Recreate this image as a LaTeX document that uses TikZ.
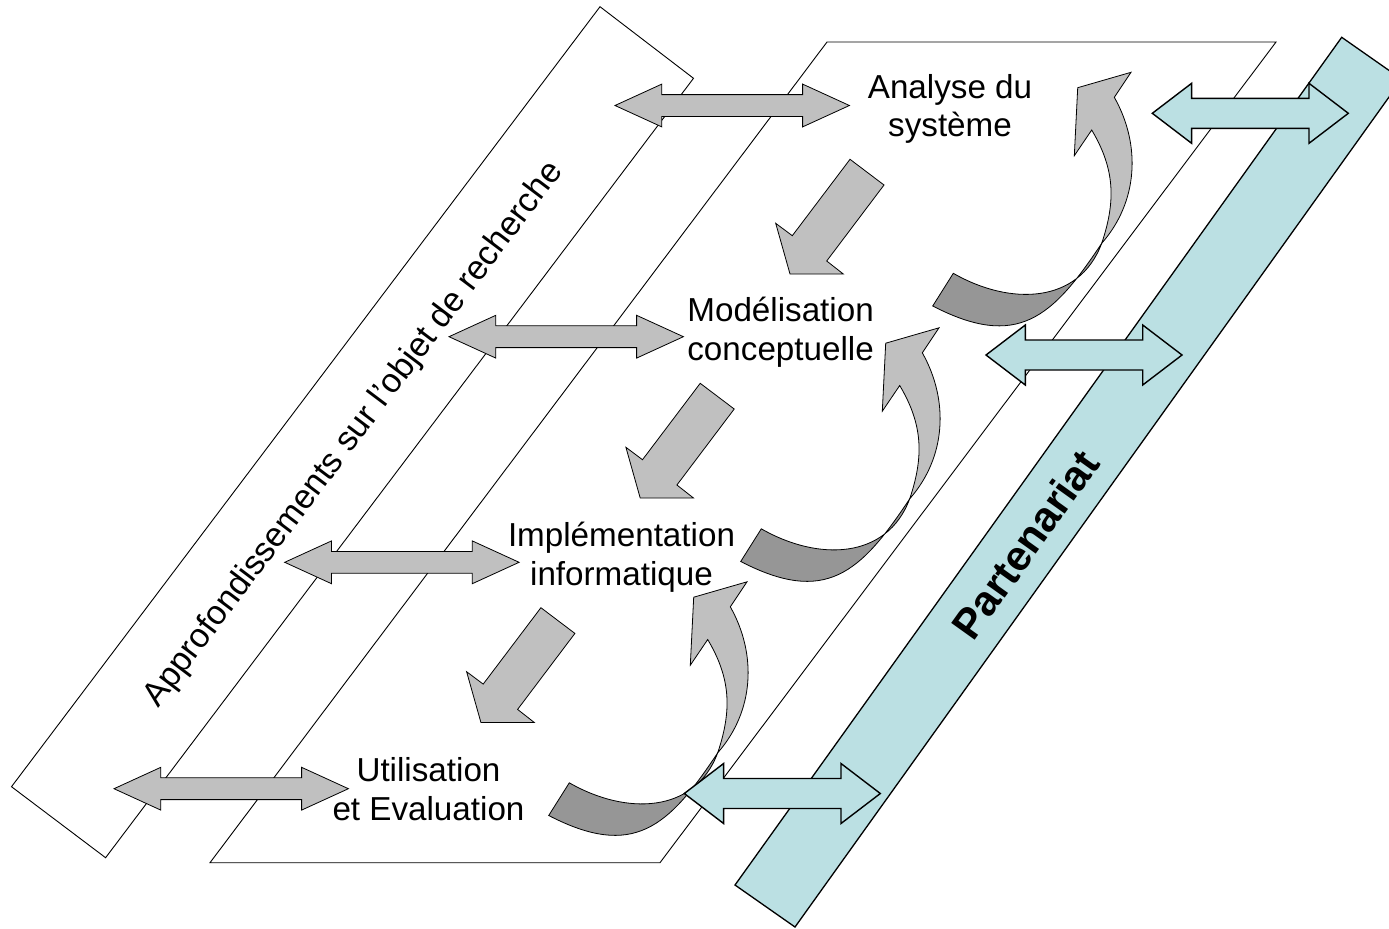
\documentclass[tikz,border=0pt]{standalone}
\usepackage{fontspec}
\setmainfont{Liberation Sans}
\definecolor{arrowgray}{RGB}{192,192,192}
\definecolor{shadegray}{RGB}{150,150,150}
\definecolor{partnerblue}{RGB}{187,224,227}

\begin{document}
\begin{tikzpicture}[x=1bp,y=-1bp,
	band/.style={draw=black,line width=0.9bp,fill=white},
	partnerband/.style={draw=black,line width=1.3bp,fill=partnerblue},
	grayarrow/.style={draw=black,line width=0.8bp,fill=arrowgray},
	darkarrow/.style={draw=black,line width=0.8bp,fill=shadegray},
	tealarrow/.style={draw=black,line width=1.4bp,fill=partnerblue},
	stagetext/.style={font=\fontsize{33.2bp}{38.5bp}\selectfont,align=center,anchor=base,inner sep=0pt}]
	\useasboundingbox (0,0) rectangle (1389,928);

	% bands
	\draw [band] (600,6.7) -- (693.5,78.3) -- (105.6,857.7) -- (11.5,786.7) -- cycle;
	\draw [band] (827,42) -- (1276,42) -- (660,862.7) -- (210,862.7) -- cycle;
	\draw [partnerband] (1341.7,37.3) -- (1401.7,79.3) -- (795,927) -- (735,885) -- cycle;

	\node [font=\fontsize{34bp}{40bp}\selectfont,rotate=53,inner sep=0pt] (approf) at (354,435) {Approfondissements sur l'objet de recherche};
	\node [font=\fontsize{42bp}{48bp}\selectfont\bfseries,rotate=54.4,inner sep=0pt] (partenariat) at (1025.3,544.2) {Partenariat};

	% double arrows to the left band
	\draw [grayarrow,shift={(615,105.5)}] (0,0) -- (46.8,-21.4) -- (46.8,-10.9) -- (187.6,-10.9) -- (187.6,-21.4) -- (234.4,0) -- (187.6,21.4) -- (187.6,10.9) -- (46.8,10.9) -- (46.8,21.4) -- cycle;
	\draw [grayarrow,shift={(449,336.7)}] (0,0) -- (46.8,-21.4) -- (46.8,-10.9) -- (187.6,-10.9) -- (187.6,-21.4) -- (234.4,0) -- (187.6,21.4) -- (187.6,10.9) -- (46.8,10.9) -- (46.8,21.4) -- cycle;
	\draw [grayarrow,shift={(284.7,562.3)}] (0,0) -- (46.8,-21.4) -- (46.8,-10.9) -- (187.6,-10.9) -- (187.6,-21.4) -- (234.4,0) -- (187.6,21.4) -- (187.6,10.9) -- (46.8,10.9) -- (46.8,21.4) -- cycle;
	\draw [grayarrow,shift={(114,788.7)}] (0,0) -- (46.8,-21.4) -- (46.8,-10.9) -- (187.6,-10.9) -- (187.6,-21.4) -- (234.4,0) -- (187.6,21.4) -- (187.6,10.9) -- (46.8,10.9) -- (46.8,21.4) -- cycle;

	% down steps
	\draw [grayarrow,shift={(850,159.3)}] (0,0) -- (34,25.7) -- (-23.3,101.7) -- (-6.7,114.7) -- (-60,114.7) -- (-74.3,64) -- (-57.7,76.4) -- cycle;
	\draw [grayarrow,shift={(700.2,383.3)}] (0,0) -- (34,25.7) -- (-23.3,101.7) -- (-6.7,114.7) -- (-60,114.7) -- (-74.3,64) -- (-57.7,76.4) -- cycle;
	\draw [grayarrow,shift={(540.9,607.7)}] (0,0) -- (34,25.7) -- (-23.3,101.7) -- (-6.7,114.7) -- (-60,114.7) -- (-74.3,64) -- (-57.7,76.4) -- cycle;

	% feedback loops
	\draw [darkarrow] (1101.7,243.3) .. controls (1078.9,304.4) and (1009.9,305.8) .. (953.3,273.3) -- (932.7,306) .. controls (1017.3,349.7) and (1052.2,318) .. (1101.7,243.3) -- cycle;
	\draw [grayarrow] (1114.3,97.3) -- (1131,72.3) -- (1077.7,87.7) -- (1074.3,155.7) -- (1091.7,130) .. controls (1114.7,168.7) and (1116.1,200.5) .. (1101.7,243.3) .. controls (1138,202) and (1141.3,145.2) .. (1114.3,97.3) -- cycle;

	\draw [darkarrow,shift={(-192,255.5)}] (1101.7,243.3) .. controls (1078.9,304.4) and (1009.9,305.8) .. (953.3,273.3) -- (932.7,306) .. controls (1017.3,349.7) and (1052.2,318) .. (1101.7,243.3) -- cycle;
	\draw [grayarrow,shift={(-192,255.5)}] (1114.3,97.3) -- (1131,72.3) -- (1077.7,87.7) -- (1074.3,155.7) -- (1091.7,130) .. controls (1114.7,168.7) and (1116.1,200.5) .. (1101.7,243.3) .. controls (1138,202) and (1141.3,145.2) .. (1114.3,97.3) -- cycle;

	\draw [darkarrow,shift={(-384,509.5)}] (1101.7,243.3) .. controls (1078.9,304.4) and (1009.9,305.8) .. (953.3,273.3) -- (932.7,306) .. controls (1017.3,349.7) and (1052.2,318) .. (1101.7,243.3) -- cycle;
	\draw [grayarrow,shift={(-384,509.5)}] (1114.3,97.3) -- (1131,72.3) -- (1077.7,87.7) -- (1074.3,155.7) -- (1091.7,130) .. controls (1114.7,168.7) and (1116.1,200.5) .. (1101.7,243.3) .. controls (1138,202) and (1141.3,145.2) .. (1114.3,97.3) -- cycle;

	% double arrows to the partner band
	\draw [tealarrow,shift={(1152.3,113.3)}] (0,0) -- (39.3,-30) -- (39.3,-15) -- (156.7,-15) -- (156.7,-30) -- (196,0) -- (156.7,30) -- (156.7,15) -- (39.3,15) -- (39.3,30) -- cycle;
	\draw [tealarrow,shift={(986,355)}] (0,0) -- (39.3,-30) -- (39.3,-15) -- (156.7,-15) -- (156.7,-30) -- (196,0) -- (156.7,30) -- (156.7,15) -- (39.3,15) -- (39.3,30) -- cycle;
	\draw [tealarrow,shift={(684.3,793.5)}] (0,0) -- (39.3,-30) -- (39.3,-15) -- (156.7,-15) -- (156.7,-30) -- (196,0) -- (156.7,30) -- (156.7,15) -- (39.3,15) -- (39.3,30) -- cycle;

	% stages (anchor at the baseline of the second line)
	\node [stagetext] (analyse) at (950,136.8) {Analyse du\\système};
	\node [stagetext] (modelisation) at (780.6,360) {Modélisation\\conceptuelle};
	\node [stagetext] (implementation) at (621.5,585) {Implémentation\\informatique};
	\node [stagetext] (utilisation) at (428.5,820.2) {Utilisation\\et Evaluation};
\end{tikzpicture}
\end{document}
